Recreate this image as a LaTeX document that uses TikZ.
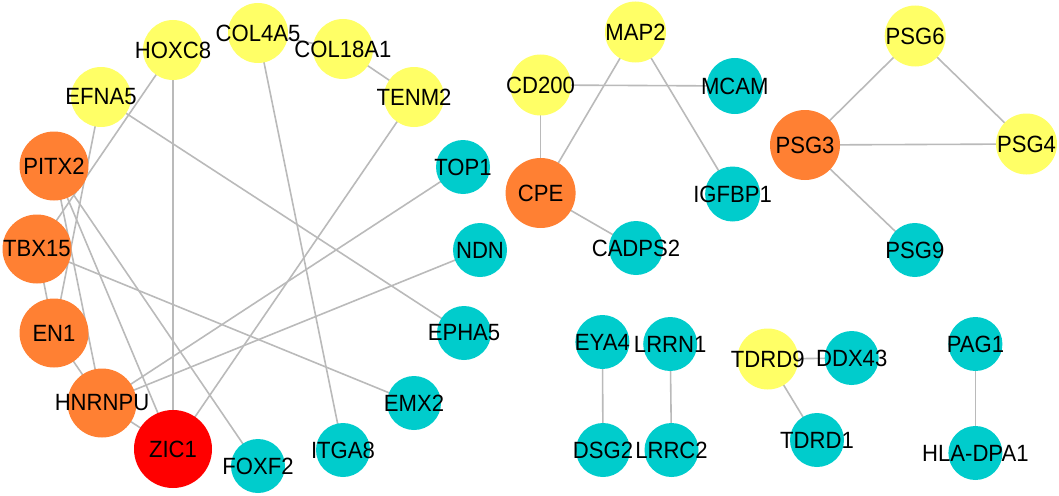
\documentclass[tikz,border=0pt]{standalone}
\usepackage{fontspec}
\setmainfont{Liberation Sans}
\newfontfamily\lblfont[FakeStretch=0.94]{Liberation Sans}
\usetikzlibrary{shapes.geometric}
\pgfdeclarelayer{bg}
\pgfsetlayers{bg,main}
\definecolor{yel}{HTML}{FFFF66}
\definecolor{cya}{HTML}{00CCCC}
\definecolor{ora}{HTML}{FF8033}
\definecolor{rd}{HTML}{FF0000}
\definecolor{edg}{HTML}{BABABA}
\tikzset{
  nd/.style={circle, draw=none, inner sep=0pt, outer sep=0pt},
  lbl/.style={label={[font=\lblfont\fontsize{23.5}{24}\selectfont, text=black, inner sep=0pt]center:#1}},
  sz/.style={minimum size=#1pt},
  ye/.style={nd, fill=yel},
  cy/.style={nd, fill=cya},
  orn/.style={nd, fill=ora},
  re/.style={nd, fill=rd},
  edge/.style={draw=edg, line width=1.6pt}
}
\begin{document}
\begin{tikzpicture}[x=1pt,y=-1pt]
\useasboundingbox (0,0) rectangle (1059,495);
% left cluster
\node[ye, sz=60, lbl=HOXC8] (hoxc8) at (173,50) {};
\node[ye, sz=60, lbl=COL4A5] (col4a5) at (258,33) {};
\node[ye, sz=60, lbl=COL18A1] (col18a1) at (343,49) {};
\node[ye, sz=60, lbl=TENM2] (tenm2) at (414,97) {};
\node[ye, sz=60, lbl=EFNA5] (efna5) at (101,97) {};
\node[orn, sz=69, lbl=PITX2] (pitx2) at (54,166) {};
\node[orn, sz=69, lbl=TBX15] (tbx15) at (37,249) {};
\node[orn, sz=69, lbl=EN1] (en1) at (54,333) {};
\node[orn, sz=69, lbl=HNRNPU] (hnrnpu) at (102,403) {};
\node[re, sz=78, lbl=ZIC1] (zic1) at (173,449) {};
\node[cy, sz=54, lbl=FOXF2] (foxf2) at (258,466) {};
\node[cy, sz=54, lbl=ITGA8] (itga8) at (343,450) {};
\node[cy, sz=54, lbl=EMX2] (emx2) at (414,403) {};
\node[cy, sz=54, lbl=EPHA5] (epha5) at (464,333) {};
\node[cy, sz=54, lbl=NDN] (ndn) at (480,250) {};
\node[cy, sz=54, lbl=TOP1] (top1) at (463,167) {};
% right clusters
\node[ye, sz=61, lbl=MAP2] (map2) at (635.5,32) {};
\node[ye, sz=61, lbl=CD200] (cd200) at (540.6,85) {};
\node[cy, sz=56, lbl=MCAM] (mcam) at (734.8,86) {};
\node[orn, sz=70, lbl=CPE] (cpe) at (540.6,193) {};
\node[cy, sz=55, lbl=IGFBP1] (igfbp1) at (732.6,194) {};
\node[cy, sz=54, lbl=CADPS2] (cadps2) at (636,248) {};
\node[ye, sz=61, lbl=PSG6] (psg6) at (915.2,36) {};
\node[orn, sz=70, lbl=PSG3] (psg3) at (805,145) {};
\node[ye, sz=61, lbl=PSG4] (psg4) at (1026.5,144) {};
\node[cy, sz=54, lbl=PSG9] (psg9) at (914.8,250) {};
\node[cy, sz=54, lbl=EYA4] (eya4) at (602.4,342) {};
\node[cy, sz=54, lbl=LRRN1] (lrrn1) at (670.2,344) {};
\node[cy, sz=54, lbl=DSG2] (dsg2) at (603,450) {};
\node[cy, sz=54, lbl=LRRC2] (lrrc2) at (671.5,450) {};
\node[ye, sz=61, lbl=TDRD9] (tdrd9) at (767.8,359) {};
\node[cy, sz=54, lbl=DDX43] (ddx43) at (851.7,358) {};
\node[cy, sz=54, lbl=TDRD1] (tdrd1) at (817,440) {};
\node[cy, sz=54, lbl=PAG1] (pag1) at (975.4,344) {};
\node[cy, sz=54, lbl=HLA-DPA1] (hla) at (975.4,453) {};
\begin{pgfonlayer}{bg}
\foreach \a/\b in {col4a5/col18a1, col18a1/tenm2, hoxc8/zic1, hoxc8/tbx15,
  efna5/en1, efna5/epha5, col4a5/itga8, tenm2/zic1, top1/hnrnpu, ndn/hnrnpu,
  pitx2/hnrnpu, pitx2/zic1, pitx2/foxf2, tbx15/emx2, tbx15/en1, en1/hnrnpu,
  hnrnpu/zic1, map2/cpe, map2/igfbp1, cd200/mcam, cd200/cpe, cpe/cadps2,
  psg3/psg6, psg6/psg4, psg3/psg4, psg3/psg9, eya4/dsg2, lrrn1/lrrc2,
  tdrd9/ddx43, tdrd9/tdrd1, pag1/hla}
  \draw[edge] (\a.center) -- (\b.center);
\end{pgfonlayer}
\end{tikzpicture}
\end{document}
